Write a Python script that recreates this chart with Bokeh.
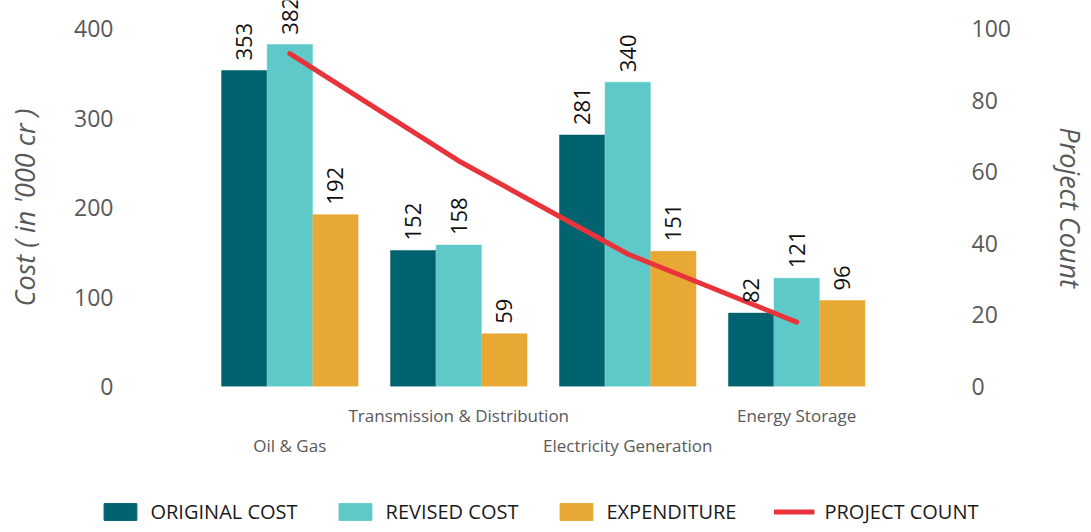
import numpy as np
from bokeh.plotting import figure
from bokeh.layouts import column
from bokeh.models import (Range1d, LinearAxis, FixedTicker, ColumnDataSource,
                          LabelSet, Legend, LegendItem)
from bokeh.core.properties import value
from bokeh.embed import file_html
from bokeh.resources import INLINE

# ---- data ----
categories = ["Oil & Gas", "Transmission & Distribution", "Electricity Generation", "Energy Storage"]
original_cost = [353, 152, 281, 82]
revised_cost = [382, 158, 340, 121]
expenditure = [192, 59, 151, 96]
project_count = [93, 63, 37, 18]
cost_ticks = [0, 100, 200, 300, 400]
count_ticks = [0, 20, 40, 60, 80, 100]
series_names = ["ORIGINAL COST", "REVISED COST", "EXPENDITURE", "PROJECT COUNT"]

# ---- styles ----
C_ORIG = "#00636F"
C_REV = "#5FC8C9"
C_EXP = "#E8A834"
C_LINE = "#E8333A"
GRAY = "#595959"
FONT = "Open Sans"
NB = "\u00a0"

idx = np.arange(len(categories))
BAR_W = 0.268
OFF = 0.27

W = 1091
H_MAIN, H_LEG = 470, 62
Y_TOP = 431.3  # value at the top edge of the frame
p = figure(width=W, height=H_MAIN, output_backend="svg", toolbar_location=None,
           x_range=Range1d(-0.943, 3.875), y_range=Range1d(0, Y_TOP),
           x_axis_type=None, y_axis_type=None,
           min_border_top=0, min_border_bottom=H_MAIN - 386,
           min_border_left=130, min_border_right=141)
p.frame_align = False
p.extra_y_ranges = {"count": Range1d(0, Y_TOP / 4)}
p.outline_line_color = None
p.xgrid.visible = False
p.ygrid.visible = False
p.background_fill_color = "white"
p.border_fill_color = "white"


def style_axis(ax, size="23px"):
    ax.axis_line_color = None
    ax.major_tick_line_color = None
    ax.minor_tick_line_color = None
    ax.major_tick_out = 0
    ax.major_tick_in = 0
    ax.minor_tick_out = 0
    ax.minor_tick_in = 0
    ax.major_label_text_font = FONT
    ax.major_label_text_font_size = size
    ax.major_label_text_color = GRAY
    ax.axis_label_text_font = FONT
    ax.axis_label_text_font_size = "27px"
    ax.axis_label_text_font_style = "italic"
    ax.axis_label_text_color = GRAY


yl = LinearAxis(ticker=FixedTicker(ticks=cost_ticks), axis_label="Cost ( in '000 cr )" + NB * 4)
style_axis(yl)
yl.major_label_standoff = 17
yl.axis_label_standoff = 28
p.add_layout(yl, "left")

yr = LinearAxis(y_range_name="count", ticker=FixedTicker(ticks=count_ticks), axis_label=NB * 4 + "Project Count")
style_axis(yr)
yr.major_label_standoff = 27
yr.axis_label_standoff = 38
p.add_layout(yr, "right")

top_ticks = [1, 3]
bot_ticks = [0, 2]
xa1 = LinearAxis(ticker=FixedTicker(ticks=top_ticks),
                 major_label_overrides={i: categories[i] for i in top_ticks})
style_axis(xa1, "17px")
xa1.major_label_standoff = 17
p.add_layout(xa1, "below")
xa2 = LinearAxis(ticker=FixedTicker(ticks=bot_ticks),
                 major_label_overrides={i: categories[i] for i in bot_ticks})
style_axis(xa2, "17px")
xa2.major_label_standoff = 4
p.add_layout(xa2, "below")

series = [(original_cost, C_ORIG, -OFF),
          (revised_cost, C_REV, 0.0),
          (expenditure, C_EXP, OFF)]
for vals, col, off in series:
    src = ColumnDataSource(dict(x=idx + off, top=vals, lbl=[str(v) for v in vals]))
    p.vbar(x="x", top="top", width=BAR_W, source=src, fill_color=col, line_color=col, line_width=0.5)
    labels = LabelSet(x="x", y="top", text="lbl", source=src, angle=np.pi / 2,
                      text_align="left", text_baseline="middle", y_offset=10,
                      text_font=value(FONT), text_font_size=value("22px"),
                      text_color=value("#111111"))
    p.add_layout(labels)

lsrc = ColumnDataSource(dict(x=idx, y=project_count))
p.line(x="x", y="y", source=lsrc, y_range_name="count", line_color=C_LINE,
       line_width=5, line_cap="round", line_join="round")

# ---- legend strip (same series drawn off-view, only the legend is visible) ----
pl = figure(width=W, height=H_LEG, output_backend="svg", toolbar_location=None,
            x_axis_type=None, y_axis_type=None,
            x_range=Range1d(100, 101), y_range=Range1d(1000, 1001),
            min_border_top=0, min_border_bottom=0, min_border_left=0, min_border_right=13)
pl.frame_align = False
pl.outline_line_color = None
pl.xgrid.visible = False
pl.ygrid.visible = False
items = []
for name, (vals, col, off) in zip(series_names[:3], series):
    r = pl.vbar(x=idx + off, top=vals, width=BAR_W, fill_color=col, line_color=col)
    items.append(LegendItem(label=name, renderers=[r]))
rl = pl.line(x=idx, y=project_count, line_color=C_LINE, line_width=5)
items.append(LegendItem(label=series_names[3], renderers=[rl]))

legend = Legend(items=items, orientation="horizontal", location="bottom_center",
                glyph_width=41, glyph_height=21, label_standoff=10, spacing=37,
                padding=0, margin=7, border_line_color=None, background_fill_alpha=0,
                label_text_font=FONT, label_text_font_size="20px",
                label_text_color="#1a1a1a", label_text_baseline="middle")
pl.add_layout(legend, "center")

layout = column(p, pl, spacing=0)
open("out.html", "w").write(file_html(layout, INLINE))
